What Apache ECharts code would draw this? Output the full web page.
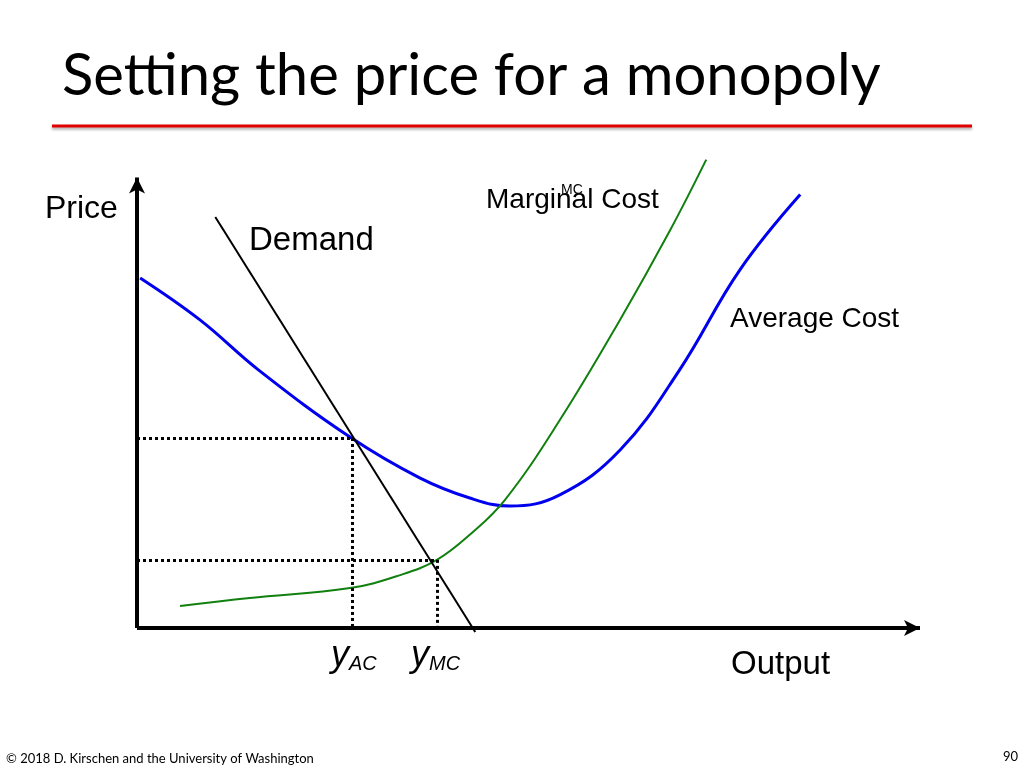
<!DOCTYPE html>
<html><head><meta charset="utf-8">
<script src="https://cdn.jsdelivr.net/npm/echarts@6/dist/echarts.min.js"></script>
<style>html,body{margin:0;background:#fff}#c{width:1024px;height:768px}</style>
</head><body><div id="c"></div>
<script>
// curves, output 0..100, price 0..100
var avgCost = [[0.4,78.1],[8,68.8],[15.5,57.6],[27.2,42.6],[36.1,33.5],[42.5,29],[47.6,27.2],[54,29.7],[61.7,39.7],[69.3,57.6],[77,79.9],[84.7,96.7]];
var margCost = [[5.5,4.9],[14.4,6.7],[27.2,8.9],[33.6,11.8],[38.3,15.2],[42.5,20.8],[47,28.6],[54,46.4],[61.7,68.8],[68.1,88.8],[72.7,104.5]];
var demand = [[10,91.7],[43.2,-0.9]];
var yAC = [27.5, 42.4];
var yMC = [38.3, 15.2];

var chart = echarts.init(document.getElementById('c'));
var dot = {color:'#000', type:[3,3], width:3};
function guide(p){ return [[[0,p[1]],[p[0],p[1]]],[[p[0],p[1]],[p[0],0]]]; }
var ff = '"Liberation Sans", Arial, sans-serif';
chart.setOption({
  animation:false,
  grid:{left:137, right:104, top:135, bottom:117.6},
  xAxis:{type:'value', min:0, max:100, show:false},
  yAxis:{type:'value', min:-5, max:110, show:false},
  series:[
    {type:'line', data:avgCost, smooth:0.4, symbol:'none', lineStyle:{color:'#0000ee', width:3}},
    {type:'line', data:margCost, smooth:0.4, symbol:'none', lineStyle:{color:'#11800f', width:2}},
    {type:'line', data:demand, symbol:'none', lineStyle:{color:'#000', width:2}},
    {type:'line', data:[], markLine:{silent:true, symbol:['none','none'], label:{show:false}, lineStyle:dot,
      data:guide(yAC).concat(guide(yMC)).map(function(s){return [{coord:s[0]},{coord:s[1]}];})}},
    {type:'line', data:[], markLine:{silent:true, symbol:['none','arrow'], symbolSize:[12,16], label:{show:false},
      lineStyle:{color:'#000', width:4, type:'solid'},
      data:[[{coord:[0,0]},{coord:[100,0]}],[{coord:[0,0]},{coord:[0,100.5]}]]}}
  ],
  graphic:[
    {type:'text', left:62, top:47, style:{text:'Setting the price for a monopoly', font:'58px Lato, sans-serif', fill:'#000'}},
    {type:'line', shape:{x1:52,y1:126,x2:972,y2:126}, style:{stroke:'#e00000', lineWidth:3, shadowColor:'rgba(0,0,0,0.35)', shadowOffsetY:2, shadowBlur:3}},
    {type:'text', left:45, top:193, style:{text:'Price', font:'32px '+ff, fill:'#000'}},
    {type:'text', left:249, top:224, style:{text:'Demand', font:'33px '+ff, fill:'#000'}},
    {type:'text', left:486, top:186, style:{text:'Marginal Cost', font:'28px '+ff, fill:'#000'}},
    {type:'text', left:561, top:183, style:{text:'MC', font:'14px '+ff, fill:'#000'}},
    {type:'text', left:730, top:305, style:{text:'Average Cost', font:'28px '+ff, fill:'#000'}},
    {type:'text', left:731, top:648, style:{text:'Output', font:'33px '+ff, fill:'#000'}},
    {type:'text', left:331, top:638, style:{text:'{a|y}{b|AC}', rich:{a:{font:'italic 36px '+ff, fill:'#000'}, b:{font:'italic 20px '+ff, fill:'#000', verticalAlign:'bottom', padding:[12,0,0,0]}}}},
    {type:'text', left:411, top:638, style:{text:'{a|y}{b|MC}', rich:{a:{font:'italic 36px '+ff, fill:'#000'}, b:{font:'italic 20px '+ff, fill:'#000', verticalAlign:'bottom', padding:[12,0,0,0]}}}},
    {type:'text', left:6, top:752, style:{text:'© 2018 D. Kirschen and the University of Washington', font:'13px Lato, sans-serif', fill:'#000'}},
    {type:'text', left:1003, top:750, style:{text:'90', font:'13px Lato, sans-serif', fill:'#000'}}
  ]
});
</script></body></html>
